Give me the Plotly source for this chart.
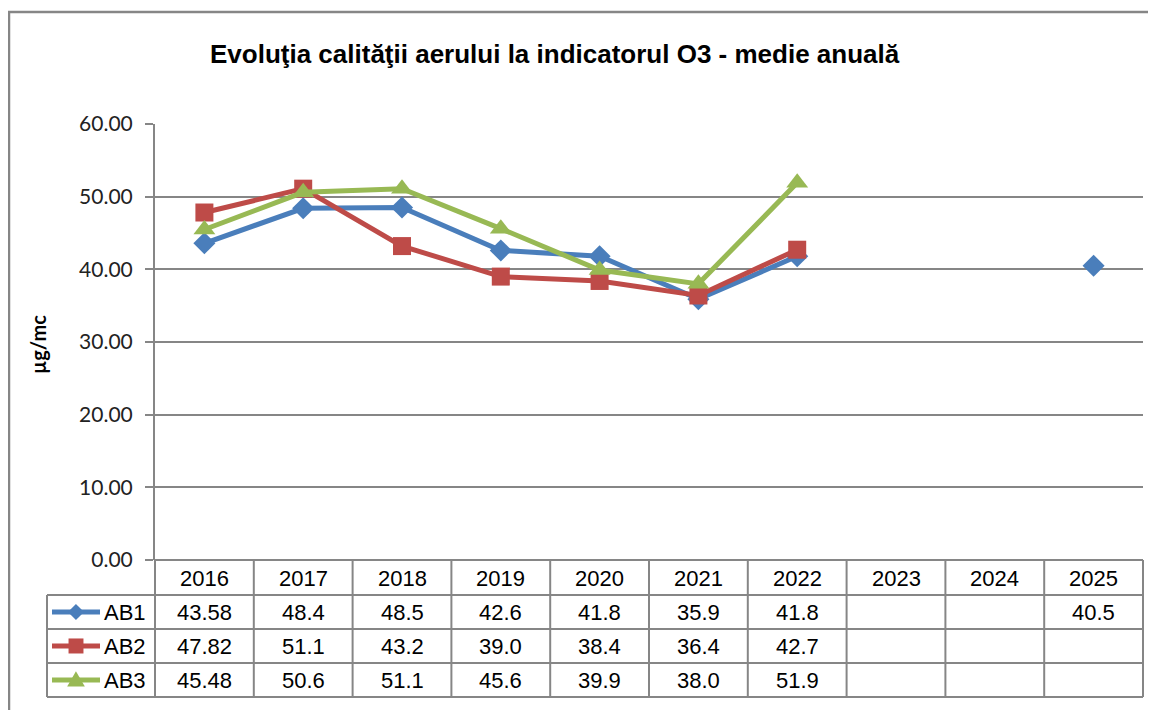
import plotly.graph_objects as go

# window size; the page body has an 8px margin, so the figure is drawn a bit smaller
W, H = 1156, 718
OFF = 8
FW, FH = W - 2 * OFF, H - 2 * OFF

years = ["2016", "2017", "2018", "2019", "2020", "2021", "2022", "2023", "2024", "2025"]
ab1 = [43.58, 48.4, 48.5, 42.6, 41.8, 35.9, 41.8, None, None, 40.5]
ab2 = [47.82, 51.1, 43.2, 39.0, 38.4, 36.4, 42.7, None, None, None]
ab3 = [45.48, 50.6, 51.1, 45.6, 39.9, 38.0, 51.9, None, None, None]
series_names = ["AB1", "AB2", "AB3"]

colors = ["#4A7EBB", "#BE4B48", "#98B954"]
symbols = ["diamond", "square", "triangle-up"]
msizes = [17, 18, 19]
GRAY = "#868686"
FONT = "Liberation Sans, Arial, sans-serif"
FONT2 = "Lato, sans-serif"


def px(x):
    return (x - OFF) / FW


def py(y):
    return 1 - (y - OFF) / FH


def fmt(v):
    if v is None:
        return ""
    if round(v, 1) == v:
        return "%.1f" % v
    return "%.2f" % v


# plot area / table geometry (window pixels)
X0, X1 = 155, 1143
Y_TOP, Y_ZERO = 124, 560
ROWS = [560, 595, 629, 663, 697]
LEG_X = 47
colw = (X1 - X0) / len(years)

fig = go.Figure()

for name, vals, c, s, ms in zip(series_names, [ab1, ab2, ab3], colors, symbols, msizes):
    fig.add_trace(go.Scatter(
        x=years, y=vals, name=name, mode="lines+markers",
        line=dict(color=c, width=5),
        marker=dict(symbol=s, size=ms, color=c),
        connectgaps=False, showlegend=False))


def line_shape(x0, y0, x1, y1, color=GRAY, width=2):
    return dict(type="line", xref="paper", yref="paper",
                x0=px(x0), x1=px(x1), y0=py(y0), y1=py(y1),
                line=dict(color=color, width=width))


def marker_path(kind, xc, yc, r):
    if kind == "diamond":
        pts = [(xc, yc - r), (xc + r, yc), (xc, yc + r), (xc - r, yc)]
    elif kind == "square":
        pts = [(xc - r, yc - r), (xc + r, yc - r), (xc + r, yc + r), (xc - r, yc + r)]
    else:
        pts = [(xc, yc - r * 1.1), (xc + r * 1.1, yc + r * 0.8), (xc - r * 1.1, yc + r * 0.8)]
    return "M " + " L ".join("%.4f,%.4f" % (px(a), py(b)) for a, b in pts) + " Z"


shapes = []
# outer frame
shapes.append(dict(type="rect", xref="paper", yref="paper",
                   x0=px(9), x1=px(1180), y0=py(12), y1=py(760),
                   line=dict(color=GRAY, width=2.5)))
# table lines
shapes.append(line_shape(X0, ROWS[0], X1, ROWS[0]))
for y in ROWS[1:]:
    shapes.append(line_shape(LEG_X, y, X1, y))
shapes.append(line_shape(LEG_X, ROWS[1], LEG_X, ROWS[-1]))
for k in range(len(years) + 1):
    x = X0 + k * colw
    shapes.append(line_shape(x, ROWS[0], x, ROWS[-1]))

# legend keys in the table
for i, (c, s) in enumerate(zip(colors, symbols)):
    yc = (ROWS[i + 1] + ROWS[i + 2]) / 2
    shapes.append(line_shape(52, yc, 100, yc, color=c, width=5))
    shapes.append(dict(type="path", xref="paper", yref="paper",
                       path=marker_path(s, 76, yc, 7.5 if s == "square" else 8),
                       fillcolor=c, line=dict(width=0)))

annotations = []


def txt(x, y, text, size=22, xanchor="center", **kw):
    annotations.append(dict(x=px(x), y=py(y), xref="paper", yref="paper", text=text,
                            showarrow=False, xanchor=xanchor, yanchor="middle",
                            font=dict(family=kw.pop("family", FONT), size=size, color="black"), **kw))


for k, yr in enumerate(years):
    xc = X0 + (k + 0.5) * colw
    txt(xc, (ROWS[0] + ROWS[1]) / 2 + 1, yr)
    for i, vals in enumerate([ab1, ab2, ab3]):
        txt(xc, (ROWS[i + 1] + ROWS[i + 2]) / 2, fmt(vals[k]))
for i, name in enumerate(series_names):
    txt(102, (ROWS[i + 1] + ROWS[i + 2]) / 2, name, xanchor="left")

txt(555, 54, "<b>Evoluţia calităţii aerului la indicatorul O3 - medie anuală</b>", size=26)
txt(38, 345, "<b>µg/mc</b>", size=20, family=FONT2, textangle=-90)

fig.update_layout(
    width=FW, height=FH,
    margin=dict(l=0, r=0, t=0, b=0, autoexpand=False),
    paper_bgcolor="white", plot_bgcolor="white",
    shapes=shapes, annotations=annotations,
    xaxis=dict(domain=[px(X0), px(X1)], type="category", range=[-0.5, 9.5],
               showticklabels=False, showgrid=False, showline=False, zeroline=False, ticks=""),
    yaxis=dict(domain=[py(Y_ZERO), py(Y_TOP)], range=[0, 60], dtick=10, tickformat=".2f",
               showgrid=True, gridcolor=GRAY, gridwidth=2, zeroline=False,
               showline=True, linecolor=GRAY, linewidth=2,
               ticks="outside", ticklen=8, tickcolor=GRAY, tickwidth=2,
               tickfont=dict(family=FONT2, size=21, color="#222"),
               ticklabelstandoff=8),
)

fig.write_html("out.html")
